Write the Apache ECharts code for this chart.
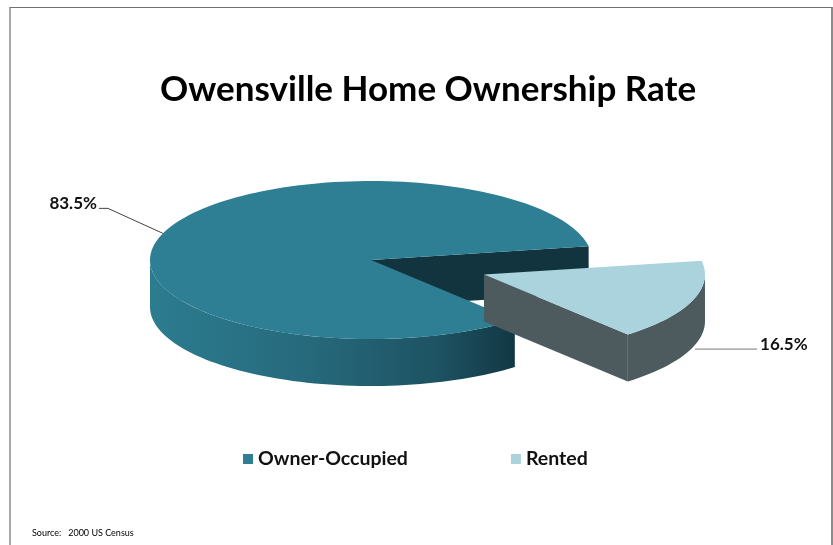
<!DOCTYPE html>
<html>
<head>
<meta charset="utf-8">
<script src="https://cdn.jsdelivr.net/npm/echarts@6/dist/echarts.min.js"></script>
<style>
  html, body { margin: 0; padding: 0; background: #fff; }
  #chart { width: 833px; height: 545px; }
  #frame {
    position: absolute; left: 9px; top: 7px; width: 824px; height: 560px;
    border-left: 2px solid #a8a8a8; border-top: 1px solid #707070; border-right: 2px solid #8c8c8c;
    box-sizing: border-box; pointer-events: none;
  }
</style>
</head>
<body>
<div id="chart"></div>
<div id="frame"></div>
<script>
// Housing tenure shares (percent of occupied units)
const categories = ['Owner-Occupied', 'Rented'];
const shares = [83.5, 16.5];
const explodeBy = [0, 120];

const topColors = ['#2e7f94', '#aad3de'];
const cutColors = ['#12343f', '#4d5b5f'];
const wallColors = [
  { type: 'linear', x: 150, y: 0, x2: 512, y2: 0, global: true,
    colorStops: [
      { offset: 0, color: '#2c7c90' },
      { offset: 0.45, color: '#26697b' },
      { offset: 0.8, color: '#1d5262' },
      { offset: 1, color: '#133845' }
    ] },
  '#4d5b5f'
];

// Projection of the tilted disc
const CX = 371, CY = 260, RX = 221, RY = 79, DEPTH = 47;
const START_DEG = 10;
const DEG = Math.PI / 180;
const total = shares.reduce((a, b) => a + b, 0);

function sliceAngles(i) {
  let a0 = START_DEG;
  for (let k = 0; k < i; k++) a0 += shares[k] / total * 360;
  return [a0, a0 + shares[i] / total * 360];
}

function pt(ox, oy, deg, r, z) {
  return [CX + ox + r * Math.cos(deg * DEG), CY + oy - r * (RY / RX) * Math.sin(deg * DEG) + z];
}

function arcPoints(ox, oy, d0, d1, z) {
  const n = Math.max(2, Math.ceil(Math.abs(d1 - d0) / 2));
  const out = [];
  for (let k = 0; k <= n; k++) out.push(pt(ox, oy, d0 + (d1 - d0) * k / n, RX, z));
  return out;
}

function makeRenderer(i) {
  return function () {
    const [a0, a1] = sliceAngles(i);
    const mid = (a0 + a1) / 2;
    const ox = explodeBy[i] * Math.cos(mid * DEG);
    const oy = -explodeBy[i] * (RY / RX) * Math.sin(mid * DEG);
    const apex = [CX + ox, CY + oy];
    const apexB = [apex[0], apex[1] + DEPTH];
    const children = [];

    // radial cut faces that turn toward the viewer
    [[a0, Math.cos(a0 * DEG) > 0], [a1, Math.cos(a1 * DEG) < 0]].forEach(([a, vis]) => {
      if (!vis) return;
      children.push({
        type: 'polygon',
        shape: { points: [apex, pt(ox, oy, a, RX, 0), pt(ox, oy, a, RX, DEPTH), apexB] },
        style: { fill: cutColors[i] }
      });
    });

    // outer wall on the front half of the disc
    for (let k = -1; k <= 2; k++) {
      const s = Math.max(a0, 180 + 360 * k);
      const e = Math.min(a1, 360 + 360 * k);
      if (e <= s) continue;
      const topArc = arcPoints(ox, oy, s, e, 0);
      const botArc = arcPoints(ox, oy, s, e, DEPTH).reverse();
      children.push({
        type: 'polygon',
        shape: { points: topArc.concat(botArc) },
        style: { fill: wallColors[i] }
      });
    }

    // top face
    children.push({
      type: 'polygon',
      shape: { points: [apex].concat(arcPoints(ox, oy, a0, a1, 0)) },
      style: { fill: topColors[i] }
    });

    // value label with leader line
    const rim = pt(ox, oy, mid, RX, 0);
    const label = shares[i].toFixed(1) + '%';
    const font = 'bold 17px Lato';
    if (Math.cos(mid * DEG) < 0) {
      const elbow = [rim[0] - 55, rim[1] - 25];
      const end = [elbow[0] - 9, elbow[1]];
      children.push({ type: 'polyline', shape: { points: [rim, elbow, end] },
        style: { stroke: '#444', lineWidth: 1, fill: null } });
      children.push({ type: 'text', style: { text: label, x: end[0] - 2, y: end[1] - 5,
        align: 'right', verticalAlign: 'middle', font: font, fill: '#111' } });
    } else {
      const start = [rim[0] + 3, rim[1] + DEPTH + 1];
      const end = [start[0] + 62, start[1]];
      children.push({ type: 'polyline', shape: { points: [start, end] },
        style: { stroke: '#777', lineWidth: 1, fill: null } });
      children.push({ type: 'text', style: { text: label, x: end[0] + 3, y: end[1] - 5,
        align: 'left', verticalAlign: 'middle', font: font, fill: '#111' } });
    }
    return { type: 'group', children: children };
  };
}

const chart = echarts.init(document.getElementById('chart'), null, { renderer: 'canvas' });
chart.setOption({
  animation: false,
  backgroundColor: '#fff',
  title: [
    { text: 'Owensville Home Ownership Rate', left: 155, top: 67,
      textStyle: { fontFamily: 'Lato', fontWeight: 'bold', fontSize: 35, color: '#000' } },
    { text: 'Source:   2000 US Census', left: 27, top: 524,
      textStyle: { fontFamily: 'Lato', fontWeight: 'normal', fontSize: 9, color: '#000' } }
  ],
  legend: {
    data: categories, left: 238, top: 444, icon: 'rect',
    itemWidth: 10, itemHeight: 10, itemGap: 103,
    textStyle: { fontFamily: 'Lato', fontWeight: 'bold', fontSize: 19.5, color: '#111' }
  },
  series: categories.map((name, i) => ({
    type: 'custom', name: name, coordinateSystem: 'none',
    itemStyle: { color: topColors[i] },
    data: [shares[i]],
    renderItem: makeRenderer(i)
  }))
});
</script>
</body>
</html>
